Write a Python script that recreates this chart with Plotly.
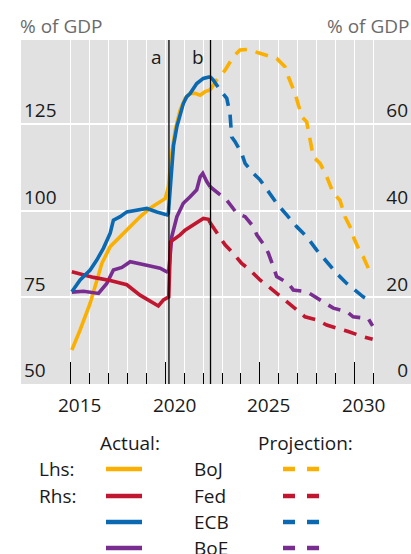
import plotly.graph_objects as go

# ---------------- data ----------------
boj_act_x = [2015.05, 2015.49, 2016.02, 2016.37, 2016.64, 2017.08, 2017.61, 2018.14, 2018.66, 2019.19,
             2019.72, 2020.0, 2020.16, 2020.34, 2020.52, 2020.78, 2021.05, 2021.31, 2021.57, 2021.84,
             2022.1, 2022.37]
boj_act_y = [59.8, 65.6, 73.3, 80.0, 84.8, 89.6, 92.5, 95.4, 98.2, 100.7,
             102.6, 103.5, 106.9, 116.5, 123.2, 129.0, 132.4, 133.8, 133.8, 133.3,
             134.3, 134.8]
boj_proj_x = [2022.37, 2022.72, 2023.16, 2023.6, 2023.95, 2024.39, 2024.92, 2025.89, 2026.33, 2026.51,
              2026.86, 2027.04, 2027.22, 2027.48, 2027.66, 2027.83, 2028.19, 2028.54, 2028.89, 2029.24,
              2029.51, 2029.86, 2029.98, 2030.3, 2030.47, 2030.74, 2030.97]
boj_proj_y = [134.8, 137.7, 140.5, 144.4, 146.3, 146.5, 145.5, 143.9, 141.5, 138.6,
              133.8, 130.0, 127.1, 125.6, 120.4, 115.5, 113.6, 109.8, 105.0, 103.0,
              98.2, 94.4, 92.0, 88.1, 86.7, 83.4, 81.4]

fed_act_x = [2015.05, 2016.2, 2017.08, 2017.96, 2018.66, 2019.19, 2019.63, 2019.9, 2020.18, 2020.27,
             2020.52, 2020.78, 2021.04, 2021.48, 2022.01, 2022.28, 2022.37]
fed_act_y = [25.9, 24.6, 23.9, 22.9, 20.5, 19.0, 18.0, 19.4, 20.1, 32.8,
             33.6, 34.4, 35.5, 36.7, 38.2, 38.0, 37.2]
fed_proj_x = [2022.37, 2022.72, 2023.16, 2023.6, 2024.04, 2024.48, 2025.01, 2025.37, 2025.98, 2026.42,
              2026.95, 2027.39, 2028.01, 2028.54, 2029.24, 2029.68, 2030.47, 2030.97]
fed_proj_y = [37.2, 34.8, 32.1, 30.1, 27.8, 26.3, 24.0, 22.8, 20.5, 19.0,
              17.1, 15.5, 14.8, 13.6, 12.8, 12.1, 10.9, 10.3]

ecb_act_x = [2015.05, 2015.49, 2016.02, 2016.37, 2016.72, 2017.08, 2017.25, 2017.61, 2017.96, 2018.49,
             2019.02, 2019.55, 2020.1, 2020.16, 2020.25, 2020.43, 2020.61, 2020.78, 2020.95, 2021.13,
             2021.31, 2021.66, 2022.01, 2022.37]
ecb_act_y = [21.3, 24.0, 26.3, 28.6, 31.3, 34.8, 37.8, 38.6, 39.7, 40.1,
             40.5, 39.7, 39.0, 39.4, 45.5, 55.0, 59.4, 62.4, 64.7, 66.3,
             67.0, 69.3, 70.5, 70.9]
ecb_proj_x = [2022.37, 2022.54, 2022.9, 2023.25, 2023.42, 2023.51, 2023.69, 2024.04, 2024.22, 2024.66,
              2025.01, 2025.37, 2025.89, 2026.42, 2026.95, 2027.48, 2028.01, 2028.62, 2029.07, 2029.6,
              2030.03, 2030.47, 2030.92]
ecb_proj_y = [70.9, 70.1, 67.8, 65.9, 62.4, 57.0, 55.9, 53.2, 50.9, 48.6,
              47.1, 44.8, 41.7, 39.0, 36.3, 34.0, 30.9, 27.8, 25.5, 23.2,
              21.7, 20.1, 19.0]

boe_act_x = [2015.05, 2015.67, 2016.46, 2016.9, 2017.25, 2017.7, 2018.14, 2018.66, 2019.19, 2019.72,
             2020.08, 2020.18, 2020.34, 2020.61, 2020.95, 2021.31, 2021.66, 2021.84, 2021.98, 2022.19,
             2022.37]
boe_act_y = [21.2, 21.4, 20.9, 23.2, 26.3, 26.9, 28.2, 27.6, 27.2, 26.7,
             25.9, 26.0, 34.0, 38.6, 41.7, 43.2, 44.8, 47.8, 48.6, 46.7,
             45.5]
boe_proj_x = [2022.37, 2022.9, 2023.25, 2023.78, 2024.22, 2024.66, 2024.84, 2025.28, 2025.46, 2025.71,
              2025.89, 2026.51, 2026.77, 2027.48, 2027.92, 2028.54, 2028.89, 2029.6, 2029.94, 2030.74,
              2030.97]
boe_proj_y = [45.5, 43.6, 42.4, 39.4, 38.6, 36.3, 34.4, 31.7, 30.1, 27.1,
              24.8, 23.2, 21.7, 21.3, 20.1, 18.6, 17.5, 16.7, 15.5, 15.1,
              13.4]

event_x = [2020.19, 2022.39]
event_labels = ["a", "b"]

major_years = [2015, 2020, 2025, 2030]
minor_years = [y for y in range(2016, 2032) if y not in major_years]
year_labels = ["2015", "2020", "2025", "2030"]

left_ticks = [50, 75, 100, 125]
right_ticks = [0, 20, 40, 60]

series_names = ["BoJ", "Fed", "ECB", "BoE"]
colors = {"BoJ": "#FBB000", "Fed": "#C1162F", "ECB": "#0B69B2", "BoE": "#7A2D90"}

# ---------------- geometry helpers (layout only) ----------------
W, H = 411, 554
ML, MR, MT, MB = 21, 0, 40, 170
PW = W - ML - MR
PH = H - MT - MB


def px(x):
    return (x - ML) / PW


def py(y):
    return (H - MB - y) / PH


FONT = "Open Sans"
TXT = "#1a1a1a"
DASH = "13px,9px"
LW = 3.6

fig = go.Figure()

data = {
    "BoJ": (boj_act_x, boj_act_y, boj_proj_x, boj_proj_y, "y"),
    "Fed": (fed_act_x, fed_act_y, fed_proj_x, fed_proj_y, "y2"),
    "ECB": (ecb_act_x, ecb_act_y, ecb_proj_x, ecb_proj_y, "y2"),
    "BoE": (boe_act_x, boe_act_y, boe_proj_x, boe_proj_y, "y2"),
}
for name in ["BoE", "Fed", "ECB", "BoJ"]:
    ax, ay, pxs, pys, yax = data[name]
    fig.add_trace(go.Scatter(x=pxs, y=pys, yaxis=yax, mode="lines",
                             line=dict(color=colors[name], width=LW, dash=DASH),
                             hoverinfo="skip", name=name + " projection"))
    fig.add_trace(go.Scatter(x=ax, y=ay, yaxis=yax, mode="lines",
                             line=dict(color=colors[name], width=LW),
                             hoverinfo="skip", name=name))

shapes = []
annotations = []
for ex, lab in zip(event_x, event_labels):
    shapes.append(dict(type="line", xref="x", yref="paper", x0=ex, x1=ex, y0=0, y1=1,
                       line=dict(color="black", width=1.3), layer="above"))
    annotations.append(dict(x=ex, xref="x", y=py(57), yref="paper", text=lab, showarrow=False,
                            xanchor="right", yanchor="middle", xshift=-5,
                            font=dict(family=FONT, size=19, color=TXT)))

for yv, lab in zip(major_years, year_labels):
    annotations.append(dict(x=yv + 0.47, xref="x", y=0, yref="paper", text=lab, showarrow=False,
                            xanchor="center", yanchor="top", yshift=-6,
                            font=dict(family=FONT, size=19, color=TXT)))

annotations.append(dict(x=px(18), y=py(26), xref="paper", yref="paper", text="% of GDP",
                        showarrow=False, xanchor="left", yanchor="middle",
                        font=dict(family=FONT, size=19, color="#6b6b6b")))
annotations.append(dict(x=px(411), y=py(26), xref="paper", yref="paper", text="% of GDP",
                        showarrow=False, xanchor="right", yanchor="middle",
                        font=dict(family=FONT, size=19, color="#6b6b6b")))

# legend
def txt(x, y, t, anchor="left"):
    annotations.append(dict(x=px(x), y=py(y), xref="paper", yref="paper", text=t, showarrow=False,
                            xanchor=anchor, yanchor="middle",
                            font=dict(family=FONT, size=19, color=TXT)))

txt(130, 443, "Actual:", "center")
txt(305, 443, "Projection:", "center")
txt(37, 469, "Lhs:")
txt(37, 496, "Rhs:")
rows = [469, 496, 522, 548]
for name, ry in zip(series_names, rows):
    txt(192, ry, name)
    shapes.append(dict(type="line", xref="paper", yref="paper", x0=px(106), x1=px(142),
                       y0=py(ry), y1=py(ry), line=dict(color=colors[name], width=4.5)))
    for a, b in [(283, 295), (307, 319)]:
        shapes.append(dict(type="line", xref="paper", yref="paper", x0=px(a), x1=px(b),
                           y0=py(ry), y1=py(ry), line=dict(color=colors[name], width=4.5)))

fig.update_layout(
    width=W, height=H,
    margin=dict(l=ML, r=MR, t=MT, b=MB, pad=0),
    paper_bgcolor="white", plot_bgcolor="#E1E1E1",
    showlegend=False,
    font=dict(family=FONT, size=19, color=TXT),
    xaxis=dict(range=[2012.36, 2033.0], tickmode="array", tickvals=major_years,
               ticks="inside", ticklen=22, tickwidth=1.3, tickcolor="black",
               showticklabels=False, showgrid=True, gridcolor="white", gridwidth=1.3,
               zeroline=False, showline=False, fixedrange=True,
               minor=dict(tickmode="array", tickvals=minor_years, ticks="inside", ticklen=11,
                          tickwidth=1.3, tickcolor="black", showgrid=True,
                          gridcolor="white", gridwidth=1.3)),
    yaxis=dict(range=[50, 149.2], tickmode="array", tickvals=left_ticks,
               ticklabelposition="inside top", ticks="", showgrid=True,
               gridcolor="white", gridwidth=1.5, zeroline=False, showline=False,
               tickfont=dict(family=FONT, size=19, color=TXT), fixedrange=True),
    yaxis2=dict(range=[0, 79.36], tickmode="array", tickvals=right_ticks, overlaying="y",
                side="right", ticklabelposition="inside top", ticks="", showgrid=False,
                zeroline=False, showline=False,
                tickfont=dict(family=FONT, size=19, color=TXT), fixedrange=True),
    shapes=shapes,
    annotations=annotations,
)

fig.write_html("out.html", config={"displayModeBar": False},
               post_script="document.body.style.margin='0px';document.body.style.overflow='hidden';")
